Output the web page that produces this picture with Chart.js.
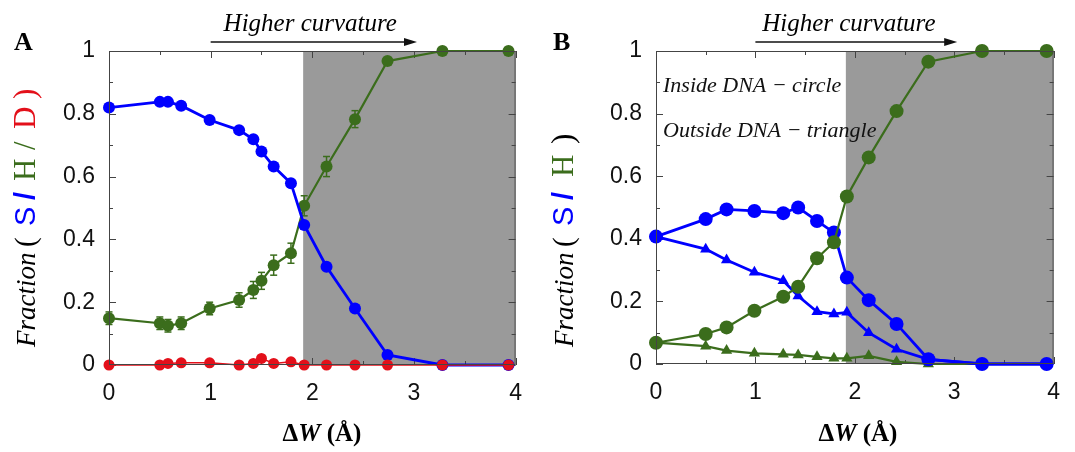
<!DOCTYPE html>
<html>
<head>
<meta charset="utf-8">
<script src="https://cdn.jsdelivr.net/npm/chart.js@4.4.0/dist/chart.umd.min.js"></script>
<style>
  html, body { margin: 0; padding: 0; background: #fff; }
  #wrap { position: relative; width: 1075px; height: 452px; }
  .panel { position: absolute; top: 0; height: 452px; }
</style>
</head>
<body>
<div id="wrap">
  <div class="panel" style="left:0;width:537px"><canvas id="chartA" width="537" height="452"></canvas></div>
  <div class="panel" style="left:537px;width:538px"><canvas id="chartB" width="538" height="452"></canvas></div>
</div>
<script>
// ---- data, panel A ----
const xA = [0, 0.5, 0.58, 0.71, 0.99, 1.28, 1.42, 1.5, 1.62, 1.79, 1.92, 2.14, 2.42, 2.74, 3.28, 3.93];
const sA = [0.82, 0.838, 0.838, 0.826, 0.78, 0.748, 0.719, 0.68, 0.632, 0.579, 0.446, 0.313, 0.18, 0.032, 0, 0];
const hA = [0.149, 0.133, 0.125, 0.133, 0.18, 0.207, 0.239, 0.268, 0.318, 0.356, 0.507, 0.632, 0.783, 0.968, 1, 1];
const hErrA = [0.02, 0.02, 0.02, 0.02, 0.02, 0.023, 0.027, 0.027, 0.032, 0.032, 0.032, 0.032, 0.027, 0.01, 0.005, 0.005];
const dA = [0, 0, 0.005, 0.007, 0.007, 0, 0.005, 0.021, 0.005, 0.01, 0, 0, 0, 0, 0, 0];

// ---- data, panel B (inside = circles, outside = triangles) ----
const xB = [0, 0.5, 0.71, 0.99, 1.28, 1.43, 1.62, 1.79, 1.92, 2.14, 2.42, 2.74, 3.28, 3.93];
const sInB = [0.407, 0.463, 0.494, 0.489, 0.482, 0.5, 0.457, 0.42, 0.276, 0.204, 0.128, 0.015, 0, 0];
const sOutB = [0.407, 0.367, 0.332, 0.293, 0.266, 0.217, 0.167, 0.16, 0.165, 0.1, 0.047, 0.015, 0, 0];
const hInB = [0.068, 0.096, 0.117, 0.17, 0.215, 0.247, 0.338, 0.389, 0.535, 0.66, 0.808, 0.966, 1, 1];
const hOutB = [0.068, 0.057, 0.043, 0.034, 0.031, 0.029, 0.023, 0.018, 0.018, 0.026, 0.007, 0, 0, 0];

const xTickLabels = ['0', '1', '2', '3', '4'];
const yTickLabels = ['0', '0.2', '0.4', '0.6', '0.8', '1'];
const shadeFrom = 1.91;

const BLUE = '#0000ff', GREEN = '#3b6d1c', RED = '#e3101a', SHADE = '#9a9a9a';
const SERIF = '"Liberation Serif", "DejaVu Serif", serif';
const SANS = '"Liberation Sans", Arial, sans-serif';

function pts(xs, ys) { return xs.map((x, i) => ({ x: x, y: ys[i] })); }

function series(xs, ys, color, opts) {
  return Object.assign({
    data: pts(xs, ys),
    showLine: true,
    clip: false,
    borderColor: color,
    backgroundColor: color,
    pointBackgroundColor: color,
    pointBorderColor: color,
    pointBorderWidth: 0,
    borderWidth: 2,
    pointRadius: 5,
    pointStyle: 'circle',
    tension: 0
  }, opts);
}

function line(ctx, x1, y1, x2, y2) {
  ctx.beginPath(); ctx.moveTo(x1, y1); ctx.lineTo(x2, y2); ctx.stroke();
}

// rotated title, each piece placed at its own offset along the baseline
function drawRich(ctx, parts, x0, y0) {
  ctx.save();
  ctx.translate(x0, y0);
  ctx.rotate(-Math.PI / 2);
  ctx.textBaseline = 'alphabetic';
  ctx.textAlign = 'left';
  parts.forEach(p => {
    ctx.font = p.f; ctx.fillStyle = p.c;
    ctx.fillText(p.t, p.at, 0);
  });
  ctx.restore();
}

const figPlugin = {
  id: 'fig',
  beforeDatasetsDraw(chart, args, o) {
    const { ctx, chartArea: a, scales: { x, y } } = chart;
    ctx.save();
    // shaded high-curvature region
    const sx = x.getPixelForValue(o.shadeFrom);
    ctx.fillStyle = SHADE;
    ctx.fillRect(sx, a.top, a.right - sx, a.bottom - a.top);
    // inward ticks on all four sides
    ctx.strokeStyle = '#444';
    ctx.lineWidth = 1;
    for (let k = 0; k <= 8; k++) {
      const px = Math.round(x.getPixelForValue(k / 2)) + 0.5;
      const len = k % 2 === 0 ? 7 : 4;
      line(ctx, px, a.bottom, px, a.bottom - len);
      line(ctx, px, a.top, px, a.top + len);
    }
    for (let k = 0; k <= 10; k++) {
      const py = Math.round(y.getPixelForValue(k / 10)) + 0.5;
      const len = k % 2 === 0 ? 7 : 4;
      line(ctx, a.left, py, a.left + len, py);
      line(ctx, a.right, py, a.right - len, py);
    }
    // error bars
    if (o.errBars) {
      const e = o.errBars;
      ctx.strokeStyle = e.color;
      ctx.lineWidth = 1.5;
      e.xs.forEach((xv, i) => {
        const px = x.getPixelForValue(xv);
        const y1 = y.getPixelForValue(e.ys[i] - e.err[i]);
        const y2 = y.getPixelForValue(e.ys[i] + e.err[i]);
        line(ctx, px, y1, px, y2);
        line(ctx, px - 3.5, y1, px + 3.5, y1);
        line(ctx, px - 3.5, y2, px + 3.5, y2);
      });
    }
    ctx.restore();
  },
  afterDatasetsDraw(chart) {
    const { ctx, chartArea: a } = chart;
    ctx.save();
    ctx.strokeStyle = '#444';
    ctx.lineWidth = 1;
    ctx.strokeRect(a.left + 0.5, a.top + 0.5, a.right - a.left - 1, a.bottom - a.top - 1);
    ctx.restore();
  },
  afterDraw(chart, args, o) {
    const { ctx, chartArea: a, scales: { x } } = chart;
    ctx.save();
    ctx.fillStyle = '#000';
    ctx.textBaseline = 'alphabetic';
    // panel letter
    ctx.font = 'bold 26px ' + SERIF;
    ctx.textAlign = 'left';
    ctx.fillText(o.letter, o.letterX, 50);
    // "Higher curvature" with arrow
    ctx.font = 'italic 25px ' + SERIF;
    ctx.textAlign = 'center';
    ctx.fillText('Higher curvature', x.getPixelForValue(o.curvX), 31);
    const ax1 = x.getPixelForValue(1.0), ax2 = x.getPixelForValue(3.03), ay = a.top - 9;
    ctx.strokeStyle = '#111'; ctx.lineWidth = 1.6;
    line(ctx, ax1, ay, ax2 - 8, ay);
    ctx.fillStyle = '#111';
    ctx.beginPath(); ctx.moveTo(ax2, ay); ctx.lineTo(ax2 - 13, ay - 4); ctx.lineTo(ax2 - 13, ay + 4); ctx.closePath(); ctx.fill();
    // legend notes
    if (o.notes) {
      ctx.font = 'italic 22px ' + SERIF;
      ctx.textAlign = 'left';
      ctx.fillStyle = '#111';
      o.notes.forEach((n, i) => ctx.fillText(n, o.notesX, 92 + i * 45));
    }
    // x title: ΔW (Å)
    const xParts = [
      { t: '\u0394', f: 'bold 25px ' + SERIF },
      { t: 'W', f: 'bold italic 25px ' + SERIF },
      { t: ' (\u00C5)', f: 'bold 25px ' + SERIF }
    ];
    let w = 0;
    xParts.forEach(p => { ctx.font = p.f; w += ctx.measureText(p.t).width; });
    let cx = o.xTitleCx - w / 2;
    ctx.textAlign = 'left';
    ctx.fillStyle = '#000';
    xParts.forEach(p => { ctx.font = p.f; ctx.fillText(p.t, cx, 441); cx += ctx.measureText(p.t).width; });
    // y title
    drawRich(ctx, o.yTitle, o.yTitleX, 347);
    ctx.restore();
  }
};

function makeChart(id, datasets, opt) {
  const W = document.getElementById(id).width;
  return new Chart(document.getElementById(id), {
    type: 'line',
    data: { datasets: datasets },
    options: {
      responsive: false,
      animation: false,
      events: [],
      layout: { padding: { top: opt.plotTop, right: W - opt.plotRight, left: 0, bottom: 0 } },
      plugins: { legend: { display: false }, tooltip: { enabled: false }, fig: opt },
      scales: {
        x: {
          type: 'linear', min: 0, max: 4,
          grid: { display: false, drawTicks: false, tickLength: 0 },
          border: { display: false },
          ticks: {
            stepSize: 1, padding: 15, color: '#111', maxRotation: 0,
            font: { family: SANS, size: 23 },
            callback: (v, i) => xTickLabels[i]
          },
          afterFit: s => { s.height = 452 - opt.plotBottom; }
        },
        y: {
          min: 0, max: 1,
          grid: { display: false, drawTicks: false, tickLength: 0 },
          border: { display: false },
          ticks: {
            stepSize: 0.2, padding: 14, color: '#111',
            font: { family: SANS, size: 23 },
            callback: (v, i) => yTickLabels[i]
          },
          afterFit: s => { s.width = opt.plotLeft; }
        }
      }
    },
    plugins: [figPlugin]
  });
}

const titleA = [
  { t: 'Fraction', at: 0, f: 'italic 27px ' + SERIF, c: '#000' },
  { t: '(', at: 100, f: '29px ' + SERIF, c: '#000' },
  { t: 'S', at: 121, f: '29px ' + SANS, c: BLUE },
  { t: '/', at: 147, f: 'bold 29px ' + SANS, c: BLUE },
  { t: 'H', at: 166, f: '31px ' + SERIF, c: GREEN },
  { t: '/', at: 197, f: '31px ' + SERIF, c: GREEN },
  { t: 'D', at: 218, f: '31px ' + SERIF, c: RED },
  { t: ')', at: 248, f: '31px ' + SERIF, c: RED }
];
const titleB = [
  { t: 'Fraction', at: 0, f: 'italic 27px ' + SERIF, c: '#000' },
  { t: '(', at: 100, f: '29px ' + SERIF, c: '#000' },
  { t: 'S', at: 121, f: '29px ' + SANS, c: BLUE },
  { t: '/', at: 147, f: 'bold 29px ' + SANS, c: BLUE },
  { t: 'H', at: 170, f: '31px ' + SERIF, c: GREEN },
  { t: ')', at: 203, f: '31px ' + SERIF, c: '#000' }
];

makeChart('chartA', [
  series(xA, dA, RED, { order: 0, borderWidth: 1.5, pointRadius: 5.5 }),
  series(xA, sA, BLUE, { order: 1, borderWidth: 2.8, pointRadius: 6 }),
  series(xA, hA, GREEN, { order: 2, borderWidth: 2.2, pointRadius: 6 })
], {
  plotLeft: 109, plotRight: 519, plotTop: 51, plotBottom: 365,
  shadeFrom: shadeFrom, letter: 'A', letterX: 14, curvX: 1.98,
  xTitleCx: 322, yTitleX: 35, yTitle: titleA,
  errBars: { xs: xA, ys: hA, err: hErrA, color: GREEN }
});

makeChart('chartB', [
  series(xB, hInB, GREEN, { order: 0, borderWidth: 2.2, pointRadius: 7 }),
  series(xB, sInB, BLUE, { order: 1, borderWidth: 2.8, pointRadius: 7 }),
  series(xB, sOutB, BLUE, { order: 2, borderWidth: 2.8, pointRadius: 6.5, pointStyle: 'triangle' }),
  series(xB, hOutB, GREEN, { order: 3, borderWidth: 2.2, pointRadius: 6.5, pointStyle: 'triangle' })
], {
  plotLeft: 119, plotRight: 522, plotTop: 51, plotBottom: 364,
  shadeFrom: shadeFrom, letter: 'B', letterX: 16, curvX: 1.94,
  xTitleCx: 321, yTitleX: 36, yTitle: titleB,
  notesX: 126, notes: ['Inside DNA \u2212 circle', 'Outside DNA \u2212 triangle']
});
</script>
</body>
</html>
